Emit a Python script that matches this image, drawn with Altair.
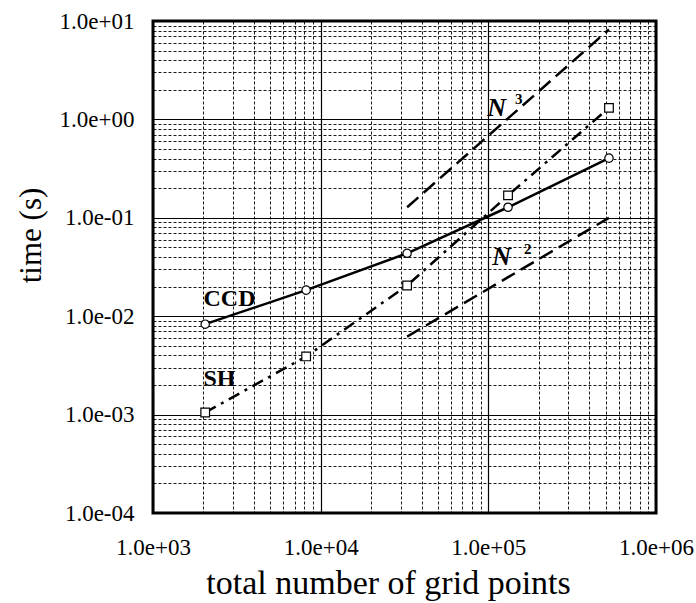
import altair as alt
import pandas as pd

# ---- data ----
grid_points = [2048, 8192, 32768, 131072, 524288]
ccd_time = [0.0083, 0.0184, 0.0436, 0.128, 0.404]
sh_time = [0.00105, 0.0039, 0.0205, 0.169, 1.31]

ref_x = [32768, 524288]
n3_time = [0.128, 8.2]
n2_time = [0.0062, 0.1]

x_major = [1000, 10000, 100000, 1000000]
x_major_labels = ["1.0e+03", "1.0e+04", "1.0e+05", "1.0e+06"]
y_major = [0.0001, 0.001, 0.01, 0.1, 1, 10]
y_major_labels = ["1.0e-04", "1.0e-03", "1.0e-02", "1.0e-01", "1.0e+00", "1.0e+01"]

# annotation texts (data coordinates)
ann_text = ["CCD", "SH"]
ann_x = [2000, 2000]
ann_y = [0.0149, 0.00229]
n_text = ["N", "N"]
n_x = [112000, 120000]
n_y = [1.32, 0.0402]
exp_text = ["3", "2"]
exp_x = [152000, 172000]
exp_y = [1.62, 0.0478]

FONT = "Liberation Serif"

def ticks(lo_exp, hi_exp):
    vals = []
    for e in range(lo_exp, hi_exp):
        for m in range(1, 10):
            vals.append(round(m * 10 ** e, 10))
    vals.append(round(10 ** hi_exp, 10))
    return vals

x_ticks = ticks(3, 6)
y_ticks = ticks(-4, 1)

def label_expr(vals, labels):
    v = "[" + ",".join(repr(a) for a in vals) + "]"
    l = "[" + ",".join("'" + s + "'" for s in labels) + "]"
    return f"indexof({v}, datum.value) >= 0 ? {l}[indexof({v}, datum.value)] : ''"

def major_test(vals):
    v = "[" + ",".join(repr(a) for a in vals) + "]"
    return f"indexof({v}, datum.value) >= 0"

series = pd.DataFrame(
    {"x": grid_points * 2, "y": ccd_time + sh_time,
     "s": ["CCD"] * 5 + ["SH"] * 5}
)
refs = pd.DataFrame(
    {"x": ref_x * 2, "y": n3_time + n2_time, "s": ["N3"] * 2 + ["N2"] * 2}
)

xscale = alt.Scale(type="log", domain=[1000, 1000000], nice=False)
yscale = alt.Scale(type="log", domain=[0.0001, 10], nice=False)

xaxis = alt.Axis(
    values=x_ticks, labelExpr=label_expr(x_major, x_major_labels),
    labelOverlap=False, labelFlush=False, ticks=False, domain=False,
    labelFont=FONT, labelFontSize=23, labelColor="black", labelPadding=23,
    grid=True, gridColor="black", gridOpacity=1,
    gridDash={"condition": {"test": major_test(x_major), "value": []}, "value": [3, 2]},
    gridWidth={"condition": {"test": major_test(x_major), "value": 1.2}, "value": 0.9},
    title="total number of grid points", titleFont=FONT, titleFontSize=34,
    titleFontWeight="normal", titleColor="black",
    titleX=235, titleY=80, titleAlign="center", titleBaseline="alphabetic",
)
yaxis = alt.Axis(
    values=y_ticks, labelExpr=label_expr(y_major, y_major_labels),
    labelOverlap=False, labelFlush=False, ticks=False, domain=False,
    labelFont=FONT, labelFontSize=23, labelColor="black", labelPadding=19,
    grid=True, gridColor="black", gridOpacity=1,
    gridDash={"condition": {"test": major_test(y_major), "value": []}, "value": [3, 2]},
    gridWidth={"condition": {"test": major_test(y_major), "value": 1.2}, "value": 0.9},
    title="time (s)", titleFont=FONT, titleFontSize=31,
    titleFontWeight="normal", titleColor="black",
    titleX=-113, titleY=214, titleAlign="center", titleBaseline="alphabetic",
    titleAngle=270,
)

base = alt.Chart(series).encode(
    x=alt.X("x:Q", scale=xscale, axis=xaxis),
    y=alt.Y("y:Q", scale=yscale, axis=yaxis),
)

ccd_line = base.transform_filter("datum.s == 'CCD'").mark_line(
    color="black", strokeWidth=2.5)
sh_line = base.transform_filter("datum.s == 'SH'").mark_line(
    color="black", strokeWidth=2.5, strokeDash=[12, 6, 3, 6])

refbase = alt.Chart(refs).encode(
    x=alt.X("x:Q", scale=xscale), y=alt.Y("y:Q", scale=yscale))
n3_line = refbase.transform_filter("datum.s == 'N3'").mark_line(
    color="black", strokeWidth=2.5, strokeDash=[15, 7])
n2_line = refbase.transform_filter("datum.s == 'N2'").mark_line(
    color="black", strokeWidth=2.5, strokeDash=[15, 7])

ccd_pts = base.transform_filter("datum.s == 'CCD'").mark_point(
    shape="circle", size=70, filled=True, fill="white", stroke="black",
    strokeWidth=1.2, opacity=1)
sh_pts = base.transform_filter("datum.s == 'SH'").mark_point(
    shape="square", size=75, filled=True, fill="white", stroke="black",
    strokeWidth=1.2, opacity=1)

ann = alt.Chart(pd.DataFrame({"x": ann_x, "y": ann_y, "t": ann_text})).mark_text(
    font=FONT, fontSize=24, fontWeight="bold", align="left", baseline="middle",
    color="black").encode(x=alt.X("x:Q", scale=xscale), y=alt.Y("y:Q", scale=yscale), text="t:N")
nlab = alt.Chart(pd.DataFrame({"x": n_x, "y": n_y, "t": n_text})).mark_text(
    font=FONT, fontSize=26, fontWeight="bold", fontStyle="italic", align="center",
    baseline="middle", color="black").encode(
    x=alt.X("x:Q", scale=xscale), y=alt.Y("y:Q", scale=yscale), text="t:N")
elab = alt.Chart(pd.DataFrame({"x": exp_x, "y": exp_y, "t": exp_text})).mark_text(
    font=FONT, fontSize=15, fontWeight="bold", align="center",
    baseline="middle", color="black").encode(
    x=alt.X("x:Q", scale=xscale), y=alt.Y("y:Q", scale=yscale), text="t:N")

chart = alt.layer(
    ccd_line, sh_line, n3_line, n2_line, ccd_pts, sh_pts, ann, nlab, elab
).properties(
    width=503, height=492,
    padding={"left": 153, "top": 21, "right": 40, "bottom": 90},
    autosize=alt.AutoSizeParams(type="none"),
    background="white",
).configure_view(stroke="black", strokeWidth=3)

chart.save("out.html", embed_options={"renderer": "svg", "actions": False})
